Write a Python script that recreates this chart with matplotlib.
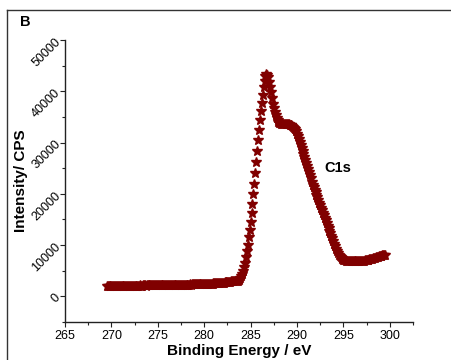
import numpy as np
import matplotlib
matplotlib.use('Agg')
import matplotlib.pyplot as plt
from matplotlib.lines import Line2D
from matplotlib.ticker import MultipleLocator

plt.rcParams['font.family'] = ['Liberation Sans', 'DejaVu Sans']

# XPS C1s scan, 0.1 eV steps
energy = np.round(np.arange(269.5, 299.55, 0.1), 1)
intensity = [
    1950, 1980, 1960, 2000, 1990,
    2000, 1980, 2010, 2020, 2000, 1990, 2030, 2020, 2010, 2040,  # 270
    2030, 2050, 2020, 2040, 2060, 2050, 2030, 2070, 2060, 2050,  # 271
    2080, 2060, 2070, 2090, 2080, 2100, 2070, 2090, 2110, 2100,  # 272
    2090, 2120, 2110, 2100, 2130, 2120, 2140, 2110, 2130, 2150,  # 273
    2140, 2130, 2160, 2150, 2140, 2170, 2160, 2150, 2180, 2170,  # 274
    2160, 2190, 2180, 2170, 2200, 2190, 2180, 2210, 2200, 2190,  # 275
    2220, 2210, 2200, 2230, 2220, 2240, 2210, 2230, 2250, 2240,  # 276
    2230, 2260, 2250, 2240, 2270, 2260, 2280, 2250, 2270, 2290,  # 277
    2280, 2300, 2290, 2310, 2300, 2320, 2310, 2330, 2320, 2340,  # 278
    2330, 2350, 2340, 2360, 2350, 2370, 2360, 2380, 2400, 2390,  # 279
    2410, 2400, 2420, 2440, 2430, 2450, 2470, 2460, 2480, 2500,  # 280
    2510, 2530, 2520, 2550, 2570, 2580, 2600, 2620, 2640, 2660,  # 281
    2680, 2700, 2720, 2740, 2760, 2780, 2800, 2840, 2880, 2920,  # 282
    2950, 2960, 2980, 3000, 3020, 3040, 3060, 3150, 3300, 3550,  # 283
    3900, 4400, 5000, 5700, 6600, 7600, 8800, 10100, 11500, 13000,  # 284
    14600, 16300, 18100, 20000, 22000, 24100, 26200, 28300, 30400, 32400,  # 285
    34300, 36100, 37800, 39300, 40800, 42000, 42900, 43300, 43200, 42700,  # 286
    41900, 40900, 39800, 38700, 37600, 36700, 35900, 35300, 34800, 34400,  # 287
    34100, 33900, 33800, 33700, 33700, 33600, 33600, 33600, 33600, 33600,  # 288
    33600, 33600, 33500, 33500, 33400, 33300, 33100, 32900, 32600, 32200,  # 289
    31700, 31200, 30700, 30200, 29600, 29000, 28400, 27800, 27200, 26600,  # 290
    26000, 25400, 24800, 24200, 23600, 23000, 22400, 21800, 21300, 20800,  # 291
    20300, 19800, 19300, 18800, 18300, 17800, 17300, 16800, 16300, 15800,  # 292
    15300, 14800, 14300, 13800, 13300, 12800, 12300, 11800, 11300, 10800,  # 293
    10300, 9800, 9300, 8900, 8500, 8100, 7800, 7600, 7400, 7250,  # 294
    7150, 7050, 7000, 6950, 6900, 6880, 6860, 6850, 6850, 6850,  # 295
    6850, 6850, 6860, 6870, 6880, 6890, 6900, 6910, 6920, 6930,  # 296
    6940, 6950, 6970, 7000, 7030, 7060, 7100, 7150, 7200, 7260,  # 297
    7320, 7380, 7440, 7500, 7560, 7620, 7680, 7740, 7790, 7840,  # 298
    7890, 7940, 7990, 8030, 8070, 8100,  # 299
]

fig = plt.figure(figsize=(4.52, 3.6), dpi=100)
ax = fig.add_axes([65 / 452, 38 / 360, 348 / 452, 282 / 360])

ax.plot(energy, intensity, linestyle='none', marker='*', color='#800000',
        markersize=7)

ax.set_xlim(265, 302.5)
ax.set_ylim(-5000, 50000)
ax.xaxis.set_major_locator(MultipleLocator(5))
ax.xaxis.set_minor_locator(MultipleLocator(2.5))
ax.yaxis.set_major_locator(MultipleLocator(10000))
ax.yaxis.set_minor_locator(MultipleLocator(5000))

for side in ['top', 'right']:
    ax.spines[side].set_visible(False)
for side in ['left', 'bottom']:
    ax.spines[side].set_linewidth(1.0)
    ax.spines[side].set_color('#222222')

ax.tick_params(which='major', direction='out', length=3.5, width=0.8,
               labelsize=9, color='#222222')
ax.tick_params(which='minor', direction='out', length=2, width=0.8,
               color='#222222')
ax.tick_params(axis='x', pad=2.5)
ax.tick_params(axis='y', pad=1)
for lbl in ax.get_yticklabels():
    lbl.set_rotation(45)
    lbl.set_rotation_mode('anchor')
    lbl.set_ha('right')
    lbl.set_va('center')

ax.set_xlabel('Binding Energy / eV', fontsize=11, fontweight='bold',
              labelpad=1)
ax.set_ylabel('Intensity/ CPS', fontsize=11, fontweight='bold',
              labelpad=1)
ax.text(292.9, 25100, 'C1s', fontsize=10.5, fontweight='bold', va='center')

fig.text(20 / 452, 1 - 22 / 360, 'B', fontsize=10.5, fontweight='bold',
         va='center')

# panel frame
fig.add_artist(Line2D([7 / 452, 1], [1 - 10 / 360, 1 - 10 / 360],
                      transform=fig.transFigure, color='#333333', lw=1))
fig.add_artist(Line2D([7 / 452, 7 / 452], [0, 1 - 10 / 360],
                      transform=fig.transFigure, color='#333333', lw=1))

fig.savefig('out.png', dpi=100)
